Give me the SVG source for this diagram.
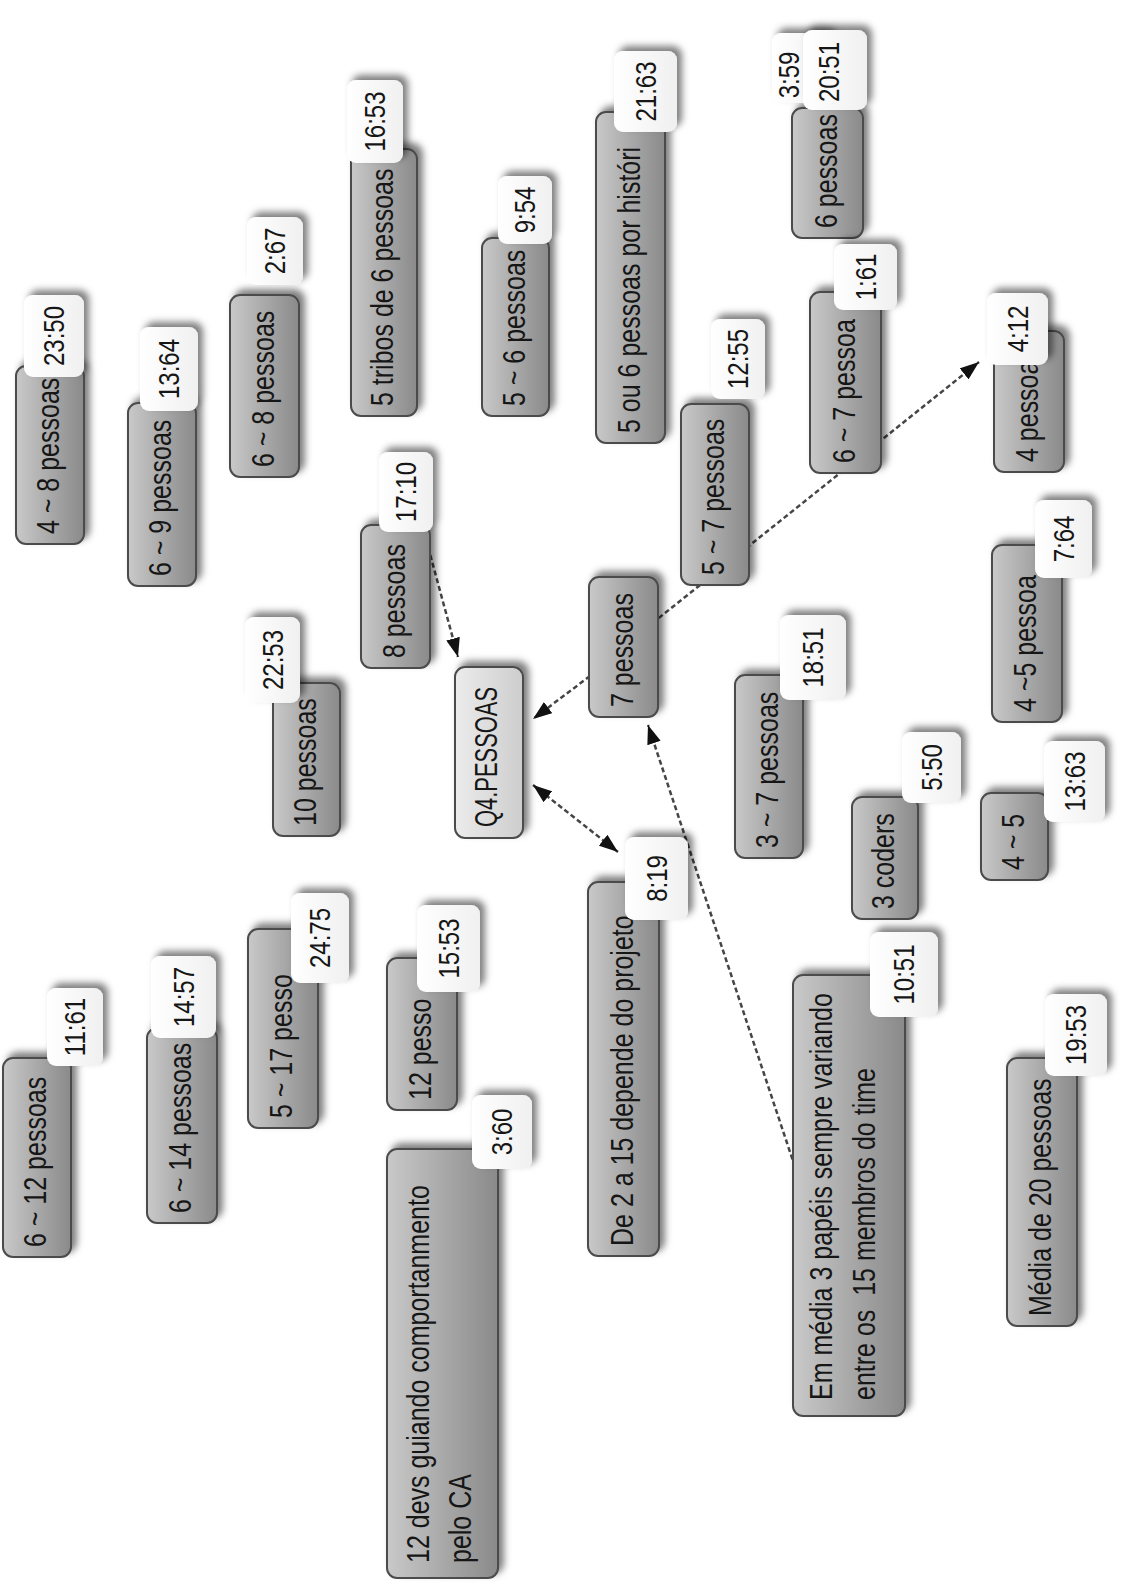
<svg xmlns="http://www.w3.org/2000/svg" width="1128" height="1596" viewBox="0 0 1128 1596">
  <defs>
    <linearGradient id="gNode" x1="0" y1="0" x2="1" y2="0">
      <stop offset="0" stop-color="#c9c9c9"/>
      <stop offset="0.5" stop-color="#a9a9a9"/>
      <stop offset="1" stop-color="#8a8a8a"/>
    </linearGradient>
    <linearGradient id="gRoot" x1="0" y1="0" x2="1" y2="0">
      <stop offset="0" stop-color="#ececec"/>
      <stop offset="1" stop-color="#cdcdcd"/>
    </linearGradient>
    <linearGradient id="gTag" x1="0" y1="0" x2="1" y2="0">
      <stop offset="0" stop-color="#ffffff"/>
      <stop offset="1" stop-color="#f0f0f0"/>
    </linearGradient>
    <filter id="sh" x="-30%" y="-30%" width="170%" height="160%">
      <feDropShadow dx="5" dy="-5" stdDeviation="3.5" flood-color="#000" flood-opacity="0.5"/>
    </filter>
    <marker id="ah" viewBox="0 0 19 14" refX="19" refY="7" markerWidth="19" markerHeight="14" markerUnits="userSpaceOnUse" orient="auto-start-reverse">
      <path d="M0,0 L19,7 L0,14 z" fill="#111"/>
    </marker>
    <style>
      .node &gt; rect { fill: url(#gNode); stroke: #4b4b4b; stroke-width: 2; }
      .root &gt; rect { fill: url(#gRoot); }
      .tag rect { fill: url(#gTag); }
      text { font-family: "Liberation Sans", Arial, sans-serif; fill: #161616; }
      .lbl { font-size: 25px; }
      .tag text { font-size: 24px; text-anchor: middle; }
      .conn { fill: none; stroke: #454545; stroke-width: 2.5; stroke-dasharray: 5 3; }
    </style>
  </defs>

  <rect x="0" y="0" width="1128" height="1596" fill="#ffffff"/>

  <!-- connectors (drawn beneath the nodes) -->
  <g id="connectors">
    <path class="conn" d="M424,532 L458,657" marker-end="url(#ah)"/>
    <path class="conn" d="M590,676 L533,719" marker-end="url(#ah)"/>
    <path class="conn" d="M533,785 L618,852" marker-start="url(#ah)" marker-end="url(#ah)"/>
    <path class="conn" d="M640,633 L979,362" marker-end="url(#ah)"/>
    <path class="conn" d="M795,1167 L648,725" marker-end="url(#ah)"/>
  </g>

  <!-- nodes: text runs bottom-to-top; each info tag sits on its node -->
  <g id="n-4a8" class="node">
    <rect x="16" y="366" width="68" height="178" rx="10" filter="url(#sh)"/>
    <text class="lbl" transform="translate(59,534) rotate(-90) scale(1,1.25)">4 ~ 8 pessoas</text>
    <g class="tag"><rect x="24" y="295" width="60" height="82" rx="9" filter="url(#sh)"/><text transform="translate(64,336) rotate(-90) scale(1,1.25)">23:50</text></g>
  </g>

  <g id="n-6a9" class="node">
    <rect x="128" y="403" width="68" height="183" rx="10" filter="url(#sh)"/>
    <text class="lbl" transform="translate(171,576) rotate(-90) scale(1,1.25)">6 ~ 9 pessoas</text>
    <g class="tag"><rect x="140" y="327" width="58" height="84" rx="9" filter="url(#sh)"/><text transform="translate(179,369) rotate(-90) scale(1,1.25)">13:64</text></g>
  </g>

  <g id="n-6a8" class="node">
    <rect x="230" y="295" width="69" height="182" rx="10" filter="url(#sh)"/>
    <text class="lbl" transform="translate(273.5,467) rotate(-90) scale(1,1.25)">6 ~ 8 pessoas</text>
    <g class="tag"><rect x="247" y="217" width="56" height="68" rx="9" filter="url(#sh)"/><text transform="translate(285,251) rotate(-90) scale(1,1.25)">2:67</text></g>
  </g>

  <g id="n-tribos" class="node">
    <rect x="351" y="149" width="66" height="267" rx="10" filter="url(#sh)"/>
    <text class="lbl" transform="translate(393,406) rotate(-90) scale(1,1.25)">5 tribos de 6 pessoas</text>
    <g class="tag"><rect x="347" y="80" width="56" height="83" rx="9" filter="url(#sh)"/><text transform="translate(385,121.5) rotate(-90) scale(1,1.25)">16:53</text></g>
  </g>

  <g id="n-5a6" class="node">
    <rect x="482" y="238" width="67" height="178" rx="10" filter="url(#sh)"/>
    <text class="lbl" transform="translate(524.5,406) rotate(-90) scale(1,1.25)">5 ~ 6 pessoas</text>
    <g class="tag"><rect x="498" y="176" width="54" height="68" rx="9" filter="url(#sh)"/><text transform="translate(535,210) rotate(-90) scale(1,1.25)">9:54</text></g>
  </g>

  <g id="n-8p" class="node">
    <rect x="361" y="525" width="69" height="143" rx="10" filter="url(#sh)"/>
    <text class="lbl" transform="translate(404.5,658) rotate(-90) scale(1,1.25)">8 pessoas</text>
    <g class="tag"><rect x="379" y="452" width="54" height="80" rx="9" filter="url(#sh)"/><text transform="translate(416,492) rotate(-90) scale(1,1.25)">17:10</text></g>
  </g>

  <g id="n-5ou6" class="node">
    <rect x="596" y="112" width="69" height="331" rx="10" filter="url(#sh)"/>
    <text class="lbl" transform="translate(639.5,433) rotate(-90) scale(1,1.25)">5 ou 6 pessoas por históri</text>
    <g class="tag"><rect x="614" y="51" width="63" height="81" rx="9" filter="url(#sh)"/><text transform="translate(655.5,91.5) rotate(-90) scale(1,1.25)">21:63</text></g>
  </g>

  <g id="n-6p" class="node">
    <rect x="792" y="108" width="71" height="130" rx="10" filter="url(#sh)"/>
    <text class="lbl" transform="translate(836.5,228) rotate(-90) scale(1,1.25)">6 pessoas</text>
    <g class="tag"><rect x="772" y="33" width="60" height="70" rx="9" filter="url(#sh)"/><text transform="translate(798.5,75) rotate(-90) scale(1,1.25)">3:59</text></g>
    <g class="tag"><rect x="803" y="30" width="64" height="80" rx="9" filter="url(#sh)"/><text transform="translate(838.5,72) rotate(-90) scale(1,1.25)">20:51</text></g>
  </g>

  <g id="n-5a7" class="node">
    <rect x="681" y="404" width="68" height="181" rx="10" filter="url(#sh)"/>
    <text class="lbl" transform="translate(724,575) rotate(-90) scale(1,1.25)">5 ~ 7 pessoas</text>
    <g class="tag"><rect x="711" y="319" width="54" height="80" rx="9" filter="url(#sh)"/><text transform="translate(748,359) rotate(-90) scale(1,1.25)">12:55</text></g>
  </g>

  <g id="n-6a7" class="node">
    <rect x="810" y="292" width="71" height="181" rx="10" filter="url(#sh)"/>
    <text class="lbl" transform="translate(854.5,463) rotate(-90) scale(1,1.25)">6 ~ 7 pessoa</text>
    <g class="tag"><rect x="834" y="244" width="63" height="66" rx="9" filter="url(#sh)"/><text transform="translate(876,277) rotate(-90) scale(1,1.25)">1:61</text></g>
  </g>

  <g id="n-4p" class="node">
    <rect x="994" y="331" width="70" height="141" rx="10" filter="url(#sh)"/>
    <text class="lbl" transform="translate(1038,462) rotate(-90) scale(1,1.25)">4 pessoa</text>
    <g class="tag"><rect x="987" y="293" width="61" height="72" rx="9" filter="url(#sh)"/><text transform="translate(1028,329) rotate(-90) scale(1,1.25)">4:12</text></g>
  </g>

  <g id="n-4a5p" class="node">
    <rect x="992" y="545" width="70" height="177" rx="10" filter="url(#sh)"/>
    <text class="lbl" transform="translate(1036,712) rotate(-90) scale(1,1.25)">4 ~5 pessoa</text>
    <g class="tag"><rect x="1035" y="500" width="57" height="78" rx="9" filter="url(#sh)"/><text transform="translate(1074,539) rotate(-90) scale(1,1.25)">7:64</text></g>
  </g>

  <g id="n-7p" class="node">
    <rect x="589" y="577" width="69" height="140" rx="10" filter="url(#sh)"/>
    <text class="lbl" transform="translate(632.5,707) rotate(-90) scale(1,1.25)">7 pessoas</text>
  </g>

  <g id="n-3a7" class="node">
    <rect x="735" y="675" width="68" height="183" rx="10" filter="url(#sh)"/>
    <text class="lbl" transform="translate(778,848) rotate(-90) scale(1,1.25)">3 ~ 7 pessoas</text>
    <g class="tag"><rect x="780" y="615" width="66" height="85" rx="9" filter="url(#sh)"/><text transform="translate(823,657.5) rotate(-90) scale(1,1.25)">18:51</text></g>
  </g>

  <g id="n-3coders" class="node">
    <rect x="852" y="797" width="66" height="122" rx="10" filter="url(#sh)"/>
    <text class="lbl" transform="translate(894,909) rotate(-90) scale(1,1.25)">3 coders</text>
    <g class="tag"><rect x="902" y="732" width="59" height="71" rx="9" filter="url(#sh)"/><text transform="translate(941.5,767.5) rotate(-90) scale(1,1.25)">5:50</text></g>
  </g>

  <g id="n-4a5" class="node">
    <rect x="981" y="793" width="67" height="87" rx="10" filter="url(#sh)"/>
    <text class="lbl" transform="translate(1023.5,870) rotate(-90) scale(1,1.25)">4 ~ 5</text>
    <g class="tag"><rect x="1044" y="741" width="61" height="81" rx="9" filter="url(#sh)"/><text transform="translate(1085,781.5) rotate(-90) scale(1,1.25)">13:63</text></g>
  </g>

  <g id="n-de2a15" class="node">
    <rect x="588" y="882" width="71" height="374" rx="10" filter="url(#sh)"/>
    <text class="lbl" transform="translate(632.5,1246) rotate(-90) scale(1,1.25)">De 2 a 15 depende do projeto</text>
    <g class="tag"><rect x="625" y="837" width="63" height="83" rx="9" filter="url(#sh)"/><text transform="translate(667,878.5) rotate(-90) scale(1,1.25)">8:19</text></g>
  </g>

  <g id="n-emmedia" class="node">
    <rect x="793" y="975" width="112" height="441" rx="10" filter="url(#sh)"/>
    <text class="lbl" transform="translate(832,1400) rotate(-90) scale(1,1.25)">Em média 3 papéis sempre variando</text>
    <text class="lbl" xml:space="preserve" transform="translate(875,1400) rotate(-90) scale(1,1.25)">entre os  15 membros do time</text>
    <g class="tag"><rect x="870" y="932" width="68" height="85" rx="9" filter="url(#sh)"/><text transform="translate(914,974.5) rotate(-90) scale(1,1.25)">10:51</text></g>
  </g>

  <g id="n-media20" class="node">
    <rect x="1007" y="1058" width="70" height="268" rx="10" filter="url(#sh)"/>
    <text class="lbl" transform="translate(1051,1316) rotate(-90) scale(1,1.25)">Média de 20 pessoas</text>
    <g class="tag"><rect x="1045" y="994" width="62" height="82" rx="9" filter="url(#sh)"/><text transform="translate(1086,1035) rotate(-90) scale(1,1.25)">19:53</text></g>
  </g>

  <g id="n-10p" class="node">
    <rect x="273" y="683" width="67" height="153" rx="10" filter="url(#sh)"/>
    <text class="lbl" transform="translate(315.5,826) rotate(-90) scale(1,1.25)">10 pessoas</text>
    <g class="tag"><rect x="245" y="617" width="55" height="86" rx="9" filter="url(#sh)"/><text transform="translate(283,660) rotate(-90) scale(1,1.25)">22:53</text></g>
  </g>

  <g id="n-q4" class="node root">
    <rect x="455" y="667" width="68" height="171" rx="10" filter="url(#sh)"/>
    <text class="lbl" textLength="140" lengthAdjust="spacingAndGlyphs" transform="translate(497,827) rotate(-90) scale(1,1.25)">Q4.PESSOAS</text>
  </g>

  <g id="n-6a12" class="node">
    <rect x="3" y="1058" width="68" height="199" rx="10" filter="url(#sh)"/>
    <text class="lbl" transform="translate(46,1247) rotate(-90) scale(1,1.25)">6 ~ 12 pessoas</text>
    <g class="tag"><rect x="47" y="988" width="56" height="78" rx="9" filter="url(#sh)"/><text transform="translate(85,1027) rotate(-90) scale(1,1.25)">11:61</text></g>
  </g>

  <g id="n-6a14" class="node">
    <rect x="147" y="1028" width="70" height="195" rx="10" filter="url(#sh)"/>
    <text class="lbl" transform="translate(191,1213) rotate(-90) scale(1,1.25)">6 ~ 14 pessoas</text>
    <g class="tag"><rect x="151" y="956" width="65" height="82" rx="9" filter="url(#sh)"/><text transform="translate(193.5,997) rotate(-90) scale(1,1.25)">14:57</text></g>
  </g>

  <g id="n-5a17" class="node">
    <rect x="248" y="929" width="70" height="199" rx="10" filter="url(#sh)"/>
    <text class="lbl" transform="translate(292,1118) rotate(-90) scale(1,1.25)">5 ~ 17 pesso</text>
    <g class="tag"><rect x="291" y="893" width="58" height="90" rx="9" filter="url(#sh)"/><text transform="translate(330,938) rotate(-90) scale(1,1.25)">24:75</text></g>
  </g>

  <g id="n-12p" class="node">
    <rect x="387" y="958" width="70" height="152" rx="10" filter="url(#sh)"/>
    <text class="lbl" transform="translate(431,1100) rotate(-90) scale(1,1.25)">12 pesso</text>
    <g class="tag"><rect x="417" y="905" width="63" height="87" rx="9" filter="url(#sh)"/><text transform="translate(458.5,948.5) rotate(-90) scale(1,1.25)">15:53</text></g>
  </g>

  <g id="n-12devs" class="node">
    <rect x="387" y="1149" width="111" height="429" rx="10" filter="url(#sh)"/>
    <text class="lbl" transform="translate(429,1563) rotate(-90) scale(1,1.25)">12 devs guiando comportanmento</text>
    <text class="lbl" transform="translate(471,1563) rotate(-90) scale(1,1.25)">pelo CA</text>
    <g class="tag"><rect x="472" y="1095" width="60" height="74" rx="9" filter="url(#sh)"/><text transform="translate(512,1132) rotate(-90) scale(1,1.25)">3:60</text></g>
  </g>
</svg>
